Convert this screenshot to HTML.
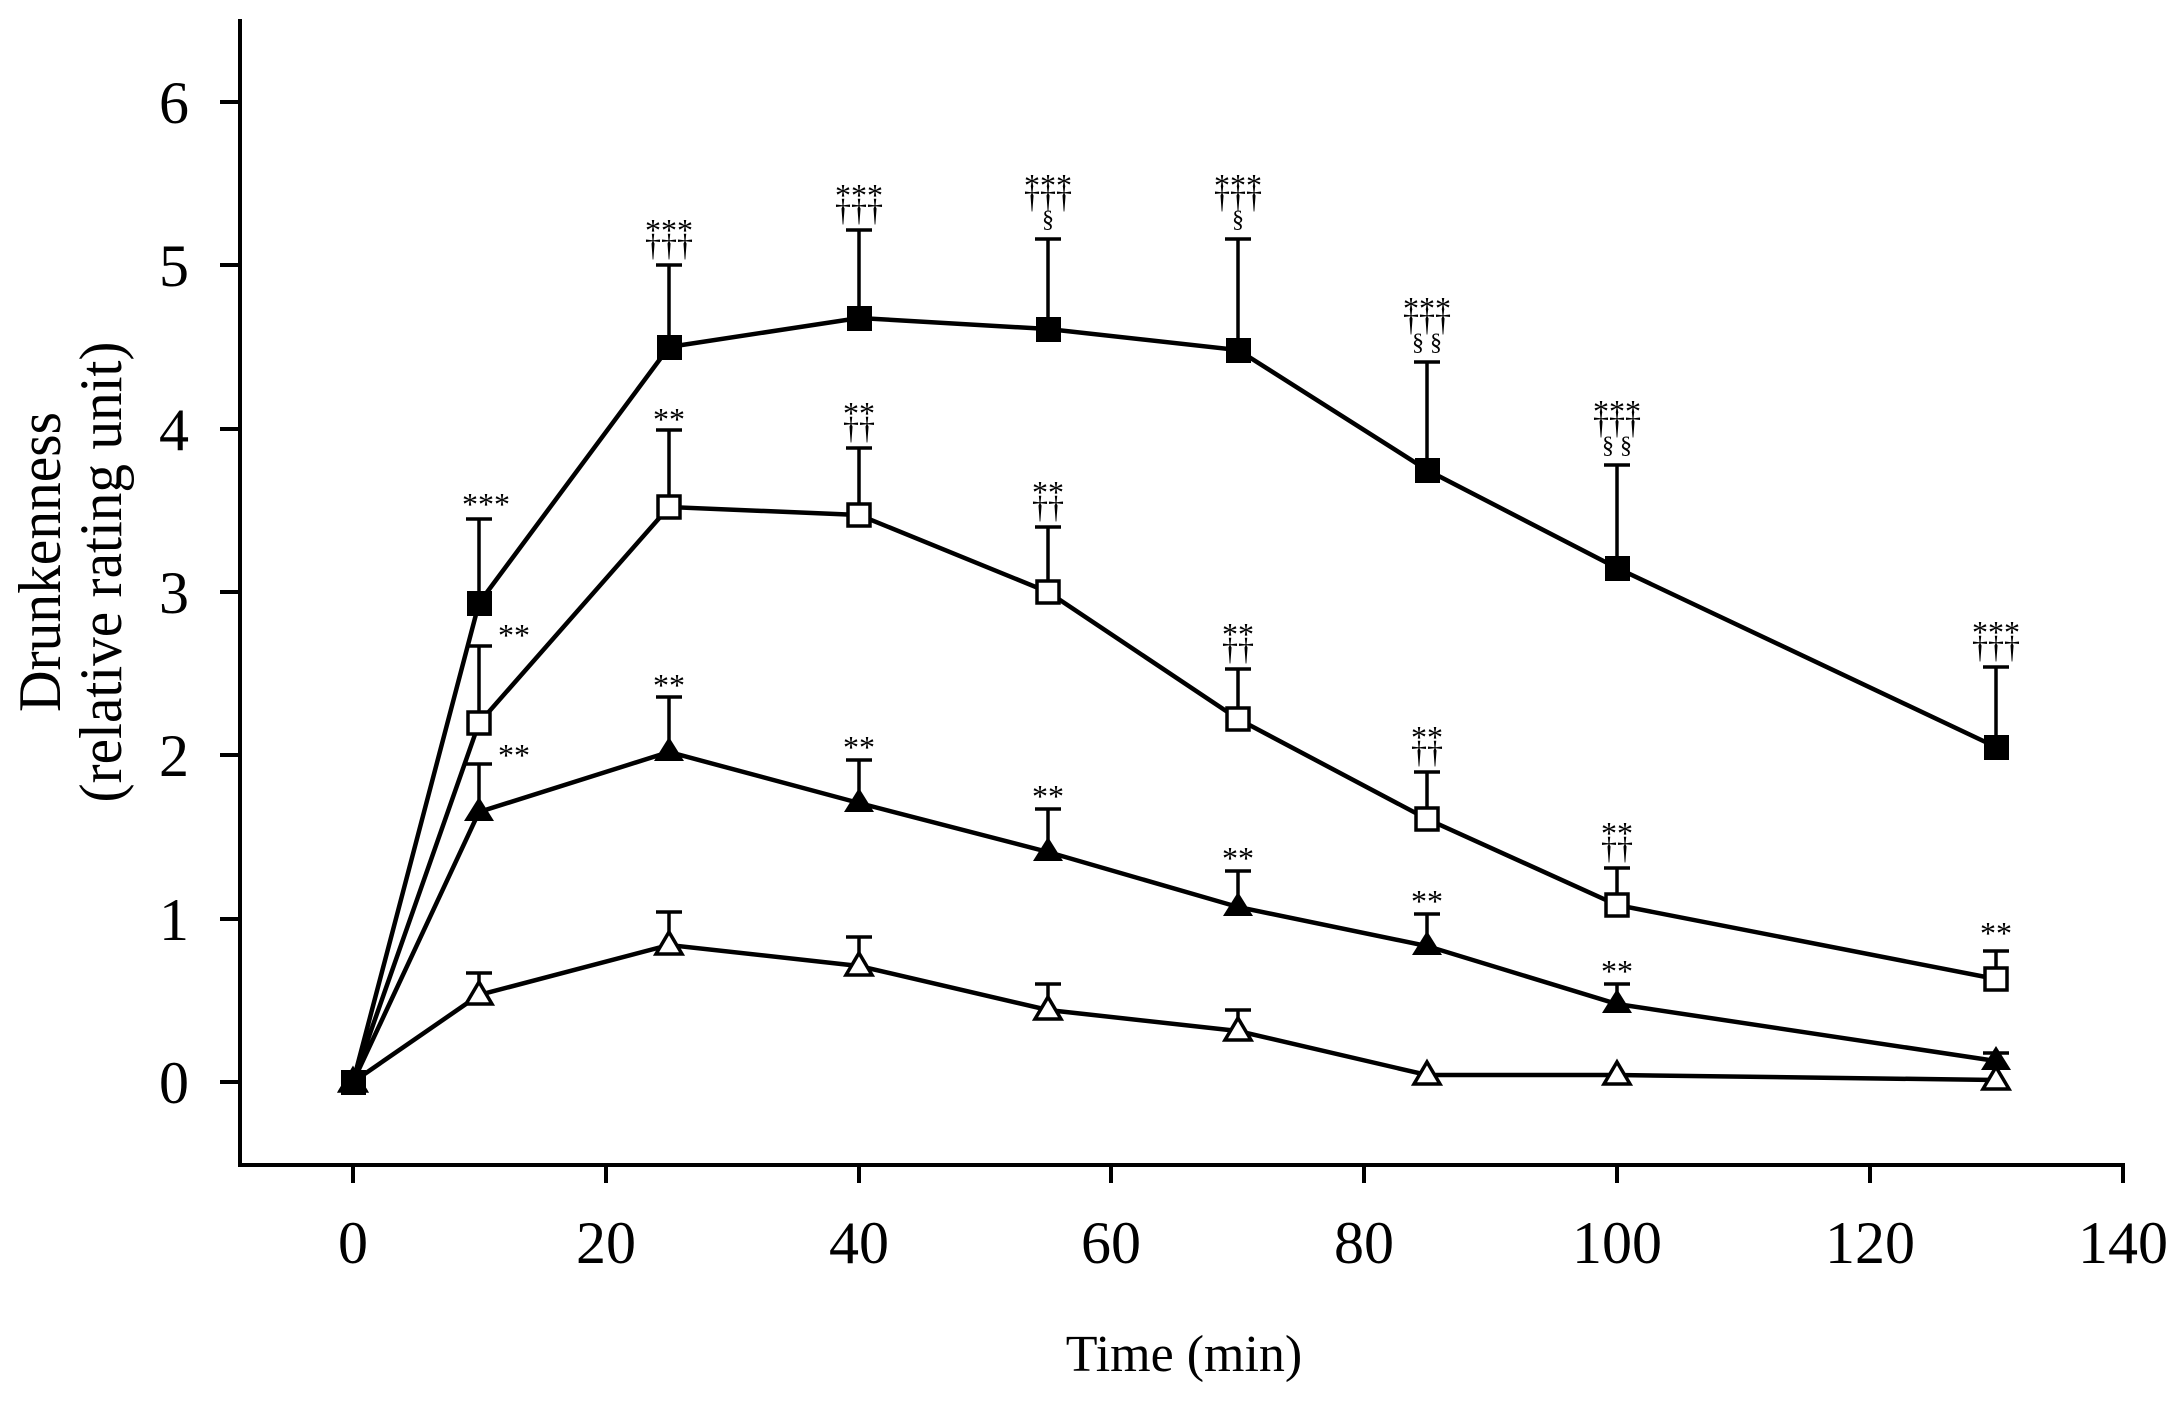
<!DOCTYPE html>
<html><head><meta charset="utf-8"><style>
html,body{margin:0;padding:0;background:#fff;}
svg{display:block;}
text{font-family:"Liberation Serif","DejaVu Serif",serif;fill:#000;}
.a{font-size:32px;text-anchor:middle;}
.s{font-size:24px;text-anchor:middle;}
.t{font-size:60px;}
</style></head><body>
<svg width="2182" height="1402" viewBox="0 0 2182 1402" xmlns="http://www.w3.org/2000/svg">
<g stroke="#000" stroke-width="4" fill="none">
<line x1="240" y1="19" x2="240" y2="1167"/>
<line x1="238" y1="1165" x2="2125" y2="1165"/>
<line x1="220" y1="1082" x2="240" y2="1082"/>
<line x1="220" y1="919" x2="240" y2="919"/>
<line x1="220" y1="755" x2="240" y2="755"/>
<line x1="220" y1="592" x2="240" y2="592"/>
<line x1="220" y1="429" x2="240" y2="429"/>
<line x1="220" y1="265" x2="240" y2="265"/>
<line x1="220" y1="102" x2="240" y2="102"/>
<line x1="353" y1="1165" x2="353" y2="1183"/>
<line x1="606" y1="1165" x2="606" y2="1183"/>
<line x1="859" y1="1165" x2="859" y2="1183"/>
<line x1="1111" y1="1165" x2="1111" y2="1183"/>
<line x1="1364" y1="1165" x2="1364" y2="1183"/>
<line x1="1617" y1="1165" x2="1617" y2="1183"/>
<line x1="1870" y1="1165" x2="1870" y2="1183"/>
<line x1="2123" y1="1165" x2="2123" y2="1183"/>
</g>
<g class="t" text-anchor="end">
<text x="189" y="1103">0</text><text x="189" y="940">1</text><text x="189" y="776">2</text>
<text x="189" y="613">3</text><text x="189" y="450">4</text><text x="189" y="286">5</text><text x="189" y="123">6</text>
</g>
<g class="t" text-anchor="middle">
<text x="353" y="1263">0</text><text x="606" y="1263">20</text><text x="859" y="1263">40</text>
<text x="1111" y="1263">60</text><text x="1364" y="1263">80</text><text x="1617" y="1263">100</text>
<text x="1870" y="1263">120</text><text x="2123" y="1263">140</text>
</g>
<text x="1184" y="1371" style="font-size:52px" text-anchor="middle">Time (min)</text>
<text transform="translate(60,562) rotate(-90)" style="font-size:60px" text-anchor="middle" textLength="300" lengthAdjust="spacingAndGlyphs">Drunkenness</text>
<text transform="translate(121,572) rotate(-90)" style="font-size:60px" text-anchor="middle" textLength="461" lengthAdjust="spacingAndGlyphs">(relative rating unit)</text>

<g stroke="#000" stroke-width="3.5">
<path d="M479 603V519M466 519H492 M669 347V265M656 265H682 M859 318V230M846 230H872 M1048 329V239M1035 239H1061 M1238 350V239M1225 239H1251 M1427 470V362M1414 362H1440 M1617 568V465M1604 465H1630 M1996 747V667M1983 667H2009"/>
<path d="M479 723V646M466 646H492 M669 507V430M656 430H682 M859 515V448M846 448H872 M1048 592V527M1035 527H1061 M1238 719V669M1225 669H1251 M1427 819V772M1414 772H1440 M1617 905V868M1604 868H1630 M1996 979V951M1983 951H2009"/>
<path d="M479 812V764M466 764H492 M669 752V697M656 697H682 M859 803V760M846 760H872 M1048 852V809M1035 809H1061 M1238 907V871M1225 871H1251 M1427 946V914M1414 914H1440 M1617 1004V984M1604 984H1630 M1996 1061V1053M1983 1053H2009"/>
<path d="M479 995V973M466 973H492 M669 945V912M656 912H682 M859 966V937M846 937H872 M1048 1010V984M1035 984H1061 M1238 1031V1010M1225 1010H1251"/>
</g>
<g stroke="#000" stroke-width="4.5" fill="none">
<polyline points="353,1082 479,603 669,347 859,318 1048,329 1238,350 1427,470 1617,568 1996,747"/>
<polyline points="353,1082 479,723 669,507 859,515 1048,592 1238,719 1427,819 1617,905 1996,979"/>
<polyline points="353,1082 479,812 669,752 859,803 1048,852 1238,907 1427,946 1617,1004 1996,1061"/>
<polyline points="353,1082 479,995 669,945 859,966 1048,1010 1238,1031 1427,1075 1617,1075 1996,1080"/>
</g>
<g stroke="#000" stroke-width="3.5" fill="#fff">
<path d="M353 1069l13 22h-26z"/><path d="M479 982l13 22h-26z"/><path d="M669 932l13 22h-26z"/>
<path d="M859 953l13 22h-26z"/><path d="M1048 997l13 22h-26z"/><path d="M1238 1018l13 22h-26z"/>
<path d="M1427 1062l13 22h-26z"/><path d="M1617 1062l13 22h-26z"/><path d="M1996 1067l13 22h-26z"/>
</g>
<g fill="#000">
<path d="M353 1067l15 24h-30z"/><path d="M479 797l15 24h-30z"/><path d="M669 737l15 24h-30z"/>
<path d="M859 788l15 24h-30z"/><path d="M1048 837l15 24h-30z"/><path d="M1238 892l15 24h-30z"/>
<path d="M1427 931l15 24h-30z"/><path d="M1617 989l15 24h-30z"/><path d="M1996 1046l15 24h-30z"/>
</g>
<g stroke="#000" stroke-width="3.5" fill="#fff">
<rect x="468" y="712" width="22" height="22"/><rect x="658" y="496" width="22" height="22"/>
<rect x="848" y="504" width="22" height="22"/><rect x="1037" y="581" width="22" height="22"/>
<rect x="1227" y="708" width="22" height="22"/><rect x="1416" y="808" width="22" height="22"/>
<rect x="1606" y="894" width="22" height="22"/><rect x="1985" y="968" width="22" height="22"/>
</g>
<g fill="#000">
<rect x="341" y="1070" width="25" height="25"/>
<rect x="467" y="591" width="25" height="25"/><rect x="657" y="335" width="25" height="25"/>
<rect x="847" y="306" width="25" height="25"/><rect x="1036" y="317" width="25" height="25"/>
<rect x="1226" y="338" width="25" height="25"/><rect x="1415" y="458" width="25" height="25"/>
<rect x="1605" y="556" width="25" height="25"/><rect x="1984" y="735" width="25" height="25"/>
</g>
<g class="a">
<text x="486" y="515">***</text>
<text x="514" y="646">**</text>
<text x="514" y="766">**</text>
<text x="669" y="241">***</text><text x="669" y="256">†††</text>
<text x="859" y="206">***</text><text x="859" y="221">†††</text>
<text x="1048" y="196">***</text><text x="1048" y="208">†††</text>
<text x="1238" y="196">***</text><text x="1238" y="208">†††</text>
<text x="1427" y="319">***</text><text x="1427" y="331">†††</text>
<text x="1617" y="422">***</text><text x="1617" y="434">†††</text>
<text x="1996" y="643">***</text><text x="1996" y="658">†††</text>
<text x="669" y="430">**</text>
<text x="859" y="424">**</text><text x="859" y="439">††</text>
<text x="1048" y="503">**</text><text x="1048" y="518">††</text>
<text x="1238" y="645">**</text><text x="1238" y="660">††</text>
<text x="1427" y="748">**</text><text x="1427" y="763">††</text>
<text x="1617" y="844">**</text><text x="1617" y="859">††</text>
<text x="1996" y="944">**</text>
<text x="669" y="696">**</text>
<text x="859" y="758">**</text>
<text x="1048" y="807">**</text>
<text x="1238" y="869">**</text>
<text x="1427" y="912">**</text>
<text x="1617" y="982">**</text>
</g>
<g class="s">
<text x="1048" y="227">§</text><text x="1238" y="227">§</text>
<text x="1427" y="350">§ §</text><text x="1617" y="453">§ §</text>
</g>
</svg>
</body></html>
